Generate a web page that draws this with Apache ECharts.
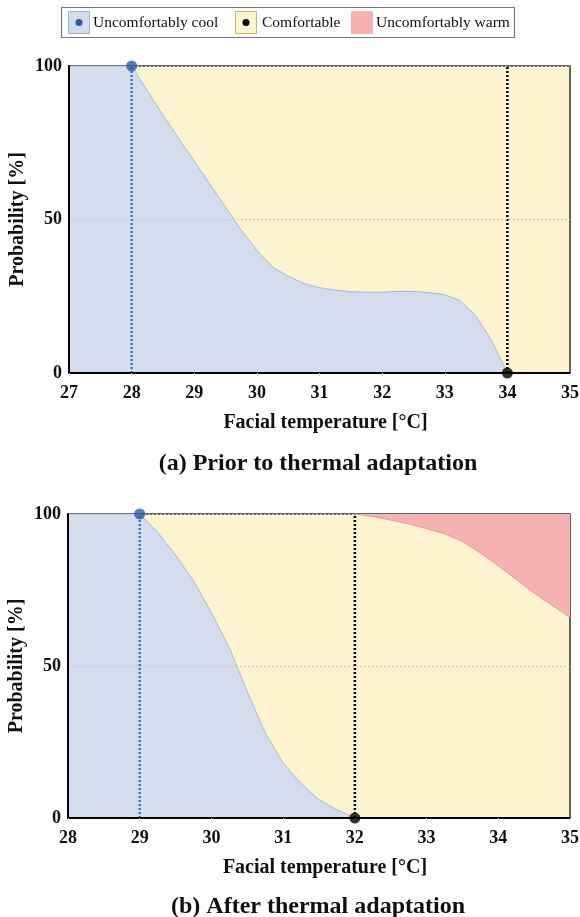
<!DOCTYPE html>
<html>
<head>
<meta charset="utf-8">
<script src="https://cdn.jsdelivr.net/npm/echarts@6/dist/echarts.min.js"></script>
<style>
  html, body { margin: 0; padding: 0; background: #fff; }
  #chart { width: 580px; height: 917px; }
</style>
</head>
<body>
<div id="chart"></div>
<script>
    // (a) prior to thermal adaptation
    const tempA = [27, 28, 28.25, 28.5, 28.75, 29, 29.25, 29.5, 29.75, 30, 30.25, 30.5, 30.75, 31, 31.25, 31.5, 31.75, 32, 32.25, 32.5, 32.75, 33, 33.25, 33.5, 33.75, 34];
    const coolA = [100, 100, 92, 84, 76.5, 69, 61.5, 54, 46.5, 40, 34.5, 31.5, 29.2, 27.8, 27, 26.5, 26.3, 26.3, 26.6, 26.6, 26.2, 25.5, 23.5, 18.5, 10.5, 0];
    // (b) after thermal adaptation
    const tempB = [28, 29, 29.25, 29.5, 29.75, 30, 30.25, 30.5, 30.75, 31, 31.25, 31.5, 31.75, 32];
    const coolB = [100, 100, 94, 86.5, 78, 67.5, 56, 41.5, 28, 18, 11.3, 6, 2.7, 0];
    const tempWarmB = [32, 32.25, 32.5, 32.75, 33, 33.25, 33.5, 33.75, 34, 34.25, 34.5, 34.75, 35];
    const warmB = [100, 99.2, 98, 96.8, 95.2, 93.5, 91, 87.2, 83, 78.5, 74, 70, 66];

    const coolLimit = [28, 29];
    const comfortLimit = [34, 32];
    const xMin = [27, 28];
    const xMax = [35, 35];
    const yTicks = [0, 50, 100];
    const xNames = ['Facial temperature [°C]', 'Facial temperature [°C]'];
    const subTitles = ['(a) Prior to thermal adaptation', '(b) After thermal adaptation'];
    const legendNames = ['Uncomfortably cool', 'Comfortable', 'Uncomfortably warm'];

    const serif = '"Liberation Serif", "DejaVu Serif", serif';
    const cBlue = '#d4ddee', cYellow = '#fef3cf', cPink = '#f7b2b2';

    const zip = (xs, ys) => xs.map((x, i) => [x, ys[i]]);

    let grids = [
        {left: 69, right: 10, top: 66, height: 307},
        {left: 68, right: 10, top: 514, height: 304}
    ].map(g => Object.assign(g, {
        show: true, outerBoundsMode: 'none', containLabel: false,
        backgroundColor: cYellow, borderColor: '#333', borderWidth: 1.5
    }));

    let xAxes = [0, 1].map(i => ({
        type: 'value', gridIndex: i, min: xMin[i], max: xMax[i], interval: 1, z: 5,
        name: xNames[i], nameLocation: 'middle', nameGap: 40, nameMoveOverlap: false,
        nameTextStyle: {fontFamily: serif, fontWeight: 'bold', fontSize: 20, color: '#111', padding: [0, 0, 0, 12]},
        axisLine: {lineStyle: {color: '#000', width: 2}},
        axisTick: {show: true, length: 3, lineStyle: {color: '#ccc'}},
        axisLabel: {fontFamily: serif, fontWeight: 'bold', fontSize: 18, color: '#111', margin: 11},
        splitLine: {show: false}
    }));

    let yAxes = [0, 1].map(i => ({
        type: 'value', gridIndex: i, min: yTicks[0], max: yTicks[2], interval: 50, z: 5,
        name: 'Probability [%]', nameLocation: 'middle', nameGap: 41, nameRotate: 90, nameMoveOverlap: false,
        nameTextStyle: {fontFamily: serif, fontWeight: 'bold', fontSize: 20, color: '#111'},
        axisLine: {lineStyle: {color: '#000', width: 2}},
        axisTick: {show: false},
        axisLabel: {fontFamily: serif, fontWeight: 'bold', fontSize: 18, color: '#111', margin: 7},
        splitLine: {show: true, lineStyle: {color: '#c8c8c8', type: [2, 2], width: 1}}
    }));

    let series = [];
    const coolData = [zip(tempA, coolA), zip(tempB, coolB)];
    for (let i = 0; i < 2; i++) {
        series.push({
            name: legendNames[0], type: 'line', xAxisIndex: i, yAxisIndex: i,
            data: coolData[i], symbol: 'none', smooth: false,
            lineStyle: {color: '#a9b7d6', width: 1},
            areaStyle: {color: cBlue, opacity: 1}, z: 2
        });
        series.push({
            type: 'line', xAxisIndex: i, yAxisIndex: i, symbol: 'none', silent: true,
            data: [[coolLimit[i], 0], [coolLimit[i], 100]],
            lineStyle: {color: '#4472c4', width: 2.5, type: [2, 2]}, z: 3
        });
        series.push({
            type: 'line', xAxisIndex: i, yAxisIndex: i, symbol: 'none', silent: true,
            data: [[comfortLimit[i], 0], [comfortLimit[i], 100]],
            lineStyle: {color: '#000', width: 2.5, type: [2, 2]}, z: 3
        });
        series.push({
            type: 'scatter', xAxisIndex: i, yAxisIndex: i, clip: false,
            data: [[coolLimit[i], 100]], symbolSize: 11,
            itemStyle: {color: '#2c5aa8'}, z: 10
        });
        series.push({
            type: 'scatter', xAxisIndex: i, yAxisIndex: i, clip: false,
            data: [[comfortLimit[i], 0]], symbolSize: 11,
            itemStyle: {color: '#000'}, z: 10
        });
    }
    series.push({
        name: legendNames[2], type: 'line', xAxisIndex: 1, yAxisIndex: 1,
        data: zip(tempWarmB, warmB), symbol: 'none', smooth: false,
        lineStyle: {color: '#f0909c', width: 1},
        areaStyle: {color: cPink, opacity: 1, origin: 'end'}, z: 2
    });

    // legend drawn by hand: boxes with a dot inside
    let legendItems = [
        {x: 68, fill: cBlue, stroke: '#9fb1dc', dot: '#2c5aa8', tx: 93},
        {x: 235, fill: cYellow, stroke: '#d8b35c', dot: '#000', tx: 262},
        {x: 351, fill: cPink, stroke: cPink, dot: null, tx: 376}
    ];
    let graphic = [{
        type: 'rect', shape: {x: 61.5, y: 7.5, width: 453, height: 30},
        style: {fill: '#fff', stroke: '#777', lineWidth: 1.2}
    }];
    legendItems.forEach((it, i) => {
        graphic.push({type: 'rect', shape: {x: it.x + 0.5, y: 11.5, width: 21, height: 22},
            style: {fill: it.fill, stroke: it.stroke, lineWidth: 1}});
        if (it.dot) {
            graphic.push({type: 'circle', shape: {cx: it.x + 11, cy: 22.5, r: 3.5},
                style: {fill: it.dot}});
        }
        graphic.push({type: 'text', x: it.tx, y: 23,
            style: {text: legendNames[i], font: '15.5px ' + serif, fill: '#111', verticalAlign: 'middle'}});
    });

    let chart = echarts.init(document.getElementById('chart'));
    chart.setOption({
        backgroundColor: '#fff',
        animation: false,
        title: [
            {text: subTitles[0], left: 313, textAlign: 'center', top: 447,
                textStyle: {fontFamily: serif, fontWeight: 'bold', fontSize: 24, color: '#111'}},
            {text: subTitles[1], left: 313, textAlign: 'center', top: 890,
                textStyle: {fontFamily: serif, fontWeight: 'bold', fontSize: 24, color: '#111'}}
        ],
        grid: grids,
        xAxis: xAxes,
        yAxis: yAxes,
        graphic: graphic,
        series: series
    });
</script>
</body>
</html>
